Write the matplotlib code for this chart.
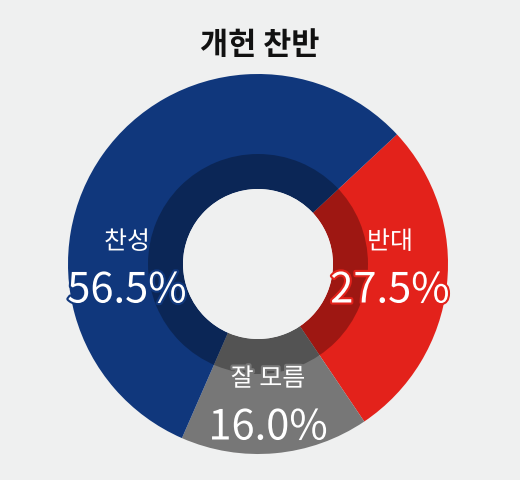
import matplotlib.pyplot as plt
import matplotlib.patheffects as pe
from matplotlib.patches import Wedge, Circle

plt.rcParams['font.family'] = ['Noto Sans CJK KR', 'DejaVu Sans']

labels = ['반대', '잘 모름', '찬성']
values = [27.5, 16.0, 56.5]
colors = ['#e3221b', '#777777', '#10377c']
# label positions in pixel coordinates (from the top)
label_pos = [(390, 243), (268, 380), (127, 243)]

W, H = 520, 481
fig = plt.figure(figsize=(W / 100, H / 100), dpi=100, facecolor='#eff0f0')
ax = fig.add_axes([0, 0, 1, 1])

cx, cy = 258, 265
# y axis is flipped below, so counterclock in data = clockwise on screen
ax.pie(values, colors=colors, startangle=-43, counterclock=True,
       radius=190, center=(cx, cy), wedgeprops=dict(width=115, linewidth=0))

ax.set_xlim(0, W)
ax.set_ylim(H, 0)
ax.set_aspect('equal')
ax.axis('off')

# darker inner band
ax.add_patch(Wedge((cx, cy), 110, 0, 360, width=35, facecolor='black', alpha=0.3, lw=0))
ax.add_patch(Circle((cx, cy), 75, facecolor='#eff0f0', lw=0))

ax.text(260, 45, '개헌 찬반', ha='center', va='center', fontsize=22, fontweight='bold', color='#111111')

for lab, val, col, (x, y) in zip(labels, values, colors, label_pos):
    stroke = [pe.withStroke(linewidth=3, foreground=col)]
    ax.text(x, y, lab, ha='center', va='center', fontsize=18, color='white',
            fontweight='medium', path_effects=stroke)
    ax.text(x, y + 49, f'{val:.1f}%', ha='center', va='center', fontsize=30,
            color='white', fontweight='medium', path_effects=stroke)

fig.savefig('out.png', dpi=100, facecolor=fig.get_facecolor())
